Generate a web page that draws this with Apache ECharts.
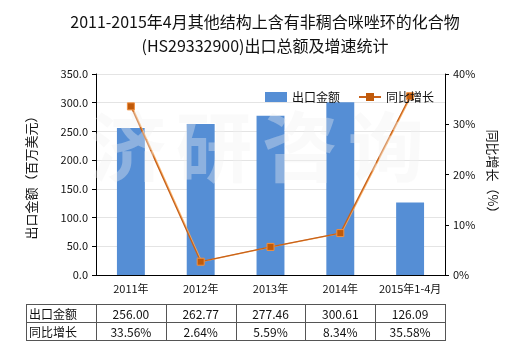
<!DOCTYPE html>
<html>
<head>
<meta charset="utf-8">
<script src="https://cdn.jsdelivr.net/npm/echarts@6/dist/echarts.min.js"></script>
<style>
  html, body { margin: 0; padding: 0; background: #fff; }
  #chart { width: 520px; height: 350px; }
</style>
</head>
<body>
<div id="chart"></div>
<script>
// Export value (million USD) and year-on-year growth (%) by period
const categories = ['2011年', '2012年', '2013年', '2014年', '2015年1-4月'];
const exportValues = [256.00, 262.77, 277.46, 300.61, 126.09];
const growthRates = [33.56, 2.64, 5.59, 8.34, 35.58];
const rowNames = ['出口金额', '同比增长'];
const leftTicks = { min: 0, max: 350, interval: 50 };
const rightTicks = { min: 0, max: 40, interval: 10 };

const FONT = '"Noto Sans CJK SC", "Noto Sans", sans-serif';
const chart = echarts.init(document.getElementById('chart'), null, { renderer: 'canvas' });

const grid = { left: 96, right: 75, top: 74, bottom: 75 };

chart.setOption({
  animation: false,
  textStyle: { fontFamily: FONT },
  title: {
    text: '2011-2015年4月其他结构上含有非稠合咪唑环的化合物\n(HS29332900)出口总额及增速统计',
    left: 260,
    top: 5,
    textAlign: 'center',
    textStyle: { fontSize: 16, fontWeight: 'normal', color: '#111', lineHeight: 24, fontFamily: FONT, align: 'center' }
  },
  legend: {
    left: 260,
    top: 86,
    itemWidth: 22,
    itemHeight: 10,
    itemGap: 18,
    textStyle: { fontSize: 12, color: '#111', fontFamily: FONT },
    data: [
      { name: '出口金额', icon: 'rect' },
      { name: '同比增长', itemStyle: { borderWidth: 0 } }
    ]
  },
  grid: grid,
  xAxis: {
    type: 'category',
    data: categories,
    axisLine: { lineStyle: { color: '#000', width: 1 } },
    axisTick: { alignWithLabel: true, length: 4, lineStyle: { color: '#000' } },
    axisLabel: { interval: 0, fontSize: 11, color: '#111', margin: 8, fontFamily: FONT }
  },
  yAxis: [
    {
      type: 'value',
      min: leftTicks.min, max: leftTicks.max, interval: leftTicks.interval,
      name: '出口金额（百万美元）',
      nameLocation: 'middle',
      nameGap: 58,
      nameTextStyle: { fontSize: 13, color: '#111', fontFamily: FONT },
      axisLine: { show: true, lineStyle: { color: '#000' } },
      axisTick: { show: true, length: 4, lineStyle: { color: '#000' } },
      axisLabel: { fontSize: 11, color: '#111', formatter: v => v.toFixed(1), fontFamily: FONT },
      splitLine: { show: true, lineStyle: { color: '#e4e4e4' } }
    },
    {
      type: 'value',
      position: 'right',
      min: rightTicks.min, max: rightTicks.max, interval: rightTicks.interval,
      name: '同比增长（%）',
      nameLocation: 'middle',
      nameRotate: -90,
      nameGap: 34,
      nameTextStyle: { fontSize: 13, color: '#111', fontFamily: FONT },
      axisLine: { show: true, lineStyle: { color: '#000' } },
      axisTick: { show: true, length: 4, lineStyle: { color: '#000' } },
      axisLabel: { fontSize: 11, color: '#111', formatter: '{value}%', fontFamily: FONT },
      splitLine: { show: false }
    }
  ],
  series: [
    {
      name: '出口金额',
      type: 'bar',
      data: exportValues,
      barWidth: '40%',
      itemStyle: { color: '#558ed5' }
    },
    {
      name: '同比增长',
      type: 'line',
      yAxisIndex: 1,
      data: growthRates,
      symbol: 'rect',
      symbolSize: 7,
      lineStyle: { color: '#c8621a', width: 1.3, shadowColor: 'rgba(250,170,90,0.9)', shadowOffsetX: 1, shadowOffsetY: 0 },
      itemStyle: { color: '#c05a0a', borderColor: '#f09040', borderWidth: 1 }
    }
  ]
});

// Watermark and data table below the axis
function buildGraphics() {
  const els = [];
  const wm = ['济', '研', '咨', '询'];
  const wmCenters = [128, 214, 300, 386];
  wm.forEach((ch, i) => {
    els.push({
      type: 'text', z: 100, silent: true,
      style: {
        text: ch, x: wmCenters[i], y: 147, align: 'center', verticalAlign: 'middle',
        font: 'bold 76px ' + FONT, fill: 'rgba(240,240,240,0.36)'
      }
    });
  });

  const plotLeft = grid.left;
  const plotRight = 520 - grid.right;
  const tableLeft = 26;
  const rowTops = [304, 322, 340];
  const lineColor = '#555';
  const lineStyle = { stroke: lineColor, lineWidth: 1 };

  // horizontal rules
  rowTops.forEach(y => {
    els.push({ type: 'line', shape: { x1: tableLeft, y1: y + 0.5, x2: plotRight, y2: y + 0.5 }, style: lineStyle });
  });
  // vertical rules: table edge plus category boundaries
  const bounds = [tableLeft, plotLeft];
  const step = (plotRight - plotLeft) / categories.length;
  for (let i = 1; i <= categories.length; i++) bounds.push(plotLeft + step * i);
  bounds.forEach(x => {
    const xx = Math.round(x) + 0.5;
    els.push({ type: 'line', shape: { x1: xx, y1: rowTops[0], x2: xx, y2: rowTops[2] + 1 }, style: lineStyle });
  });

  // row headers
  rowNames.forEach((name, r) => {
    els.push({
      type: 'text',
      style: { text: name, x: tableLeft + 3, y: (rowTops[r] + rowTops[r + 1]) / 2 + 1, verticalAlign: 'middle', font: '12px ' + FONT, fill: '#111' }
    });
  });

  // values, centred under each category
  categories.forEach((c, i) => {
    const cx = chart.convertToPixel({ xAxisIndex: 0 }, c);
    els.push({
      type: 'text',
      style: { text: exportValues[i].toFixed(2), x: cx, y: (rowTops[0] + rowTops[1]) / 2 + 1, align: 'center', verticalAlign: 'middle', font: '12px ' + FONT, fill: '#111' }
    });
    els.push({
      type: 'text',
      style: { text: growthRates[i].toFixed(2) + '%', x: cx, y: (rowTops[1] + rowTops[2]) / 2 + 1, align: 'center', verticalAlign: 'middle', font: '12px ' + FONT, fill: '#111' }
    });
  });
  return els;
}

chart.setOption({ graphic: buildGraphics() });
</script>
</body>
</html>
